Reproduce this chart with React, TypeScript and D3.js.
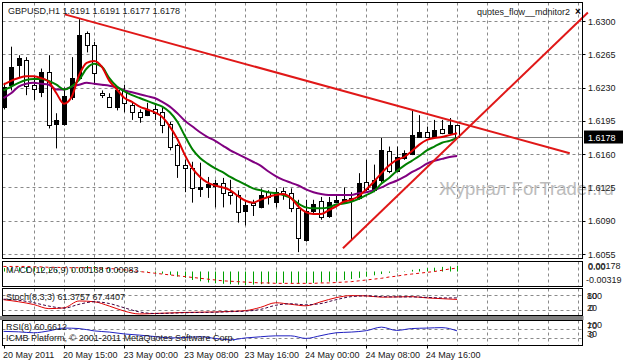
import React from "react";
import * as d3 from "d3";

// ---------- DATA ----------
const symbolTitle = "GBPUSD,H1  1.6191 1.6191 1.6177 1.6178";
const openP = [1.6210,1.6233,1.6254,1.6259,1.6233,1.6225,1.6246,1.6192,1.6192,1.6220,1.6240,1.6287,1.6275,1.6224,1.6220,1.6210,1.6227,1.6212,1.6204,1.6201,1.6207,1.6204,1.6192,1.6170,1.6149,1.6145,1.6123,1.6125,1.6127,1.6130,1.6120,1.6117,1.6100,1.6109,1.6104,1.6120,1.6110,1.6121,1.6119,1.6103,1.6070,1.6100,1.6111,1.6095,1.6110,1.6110,1.6112,1.6114,1.6131,1.6122,1.6133,1.6163,1.6142,1.6156,1.6160,1.6178,1.6183,1.6178,1.6186,1.6182,1.6191];
const highP = [1.6235,1.6273,1.6264,1.6262,1.6242,1.6250,1.6264,1.6203,1.6230,1.6262,1.6302,1.6289,1.6278,1.6227,1.6224,1.6231,1.6233,1.6215,1.6207,1.6214,1.6212,1.6209,1.6194,1.6171,1.6154,1.6152,1.6151,1.6136,1.6133,1.6135,1.6133,1.6122,1.6112,1.6112,1.6124,1.6122,1.6124,1.6125,1.6124,1.6112,1.6112,1.6112,1.6115,1.6115,1.6116,1.6125,1.6120,1.6140,1.6154,1.6149,1.6177,1.6168,1.6168,1.6164,1.6206,1.6201,1.6189,1.6196,1.6196,1.6198,1.6191];
const lowP = [1.6207,1.6227,1.6241,1.6222,1.6217,1.6220,1.6187,1.6166,1.6190,1.6217,1.6239,1.6267,1.6233,1.6219,1.6209,1.6206,1.6204,1.6196,1.6193,1.6200,1.6196,1.6182,1.6164,1.6135,1.6120,1.6109,1.6115,1.6114,1.6104,1.6104,1.6107,1.6088,1.6085,1.6095,1.6103,1.6107,1.6104,1.6112,1.6099,1.6057,1.6068,1.6098,1.6091,1.6093,1.6110,1.6109,1.6070,1.6112,1.6121,1.6120,1.6130,1.6140,1.6141,1.6154,1.6159,1.6177,1.6177,1.6177,1.6181,1.6181,1.6177];
const closeP = [1.6231,1.6252,1.6261,1.6232,1.6229,1.6246,1.6191,1.6196,1.6221,1.6240,1.6285,1.6275,1.6245,1.6222,1.6210,1.6227,1.6214,1.6204,1.6199,1.6206,1.6203,1.6191,1.6168,1.6149,1.6145,1.6124,1.6125,1.6129,1.6130,1.6119,1.6117,1.6099,1.6107,1.6107,1.6117,1.6115,1.6120,1.6118,1.6103,1.6072,1.6100,1.6108,1.6094,1.6110,1.6112,1.6113,1.6114,1.6130,1.6123,1.6133,1.6164,1.6142,1.6157,1.6161,1.6180,1.6183,1.6178,1.6185,1.6182,1.6191,1.6178];

const maFast = [1.6233,1.6237,1.6240,1.6242,1.6242,1.6240,1.6236,1.6224,1.6213,1.6220,1.6243,1.6256,1.6258,1.6252,1.6237,1.6228,1.6219,1.6215,1.6210,1.6207,1.6204,1.6199,1.6189,1.6176,1.6159,1.6145,1.6136,1.6130,1.6127,1.6125,1.6122,1.6116,1.6111,1.6109,1.6112,1.6115,1.6117,1.6118,1.6114,1.6105,1.6099,1.6097,1.6097,1.6101,1.6105,1.6110,1.6112,1.6116,1.6123,1.6131,1.6140,1.6148,1.6154,1.6157,1.6163,1.6170,1.6175,1.6177,1.6178,1.6180,1.6182];
const maMid = [1.6227,1.6231,1.6235,1.6238,1.6239,1.6239,1.6237,1.6233,1.6228,1.6231,1.6238,1.6250,1.6255,1.6252,1.6240,1.6231,1.6226,1.6222,1.6219,1.6216,1.6213,1.6210,1.6204,1.6194,1.6179,1.6165,1.6156,1.6150,1.6145,1.6141,1.6136,1.6132,1.6128,1.6124,1.6122,1.6120,1.6119,1.6117,1.6114,1.6108,1.6104,1.6103,1.6103,1.6104,1.6107,1.6108,1.6110,1.6113,1.6117,1.6121,1.6129,1.6135,1.6142,1.6148,1.6153,1.6158,1.6164,1.6168,1.6172,1.6174,1.6177];
const maSlow = [1.6219,1.6224,1.6231,1.6234,1.6235,1.6234,1.6233,1.6228,1.6228,1.6231,1.6233,1.6235,1.6234,1.6233,1.6232,1.6230,1.6227,1.6225,1.6223,1.6221,1.6219,1.6215,1.6210,1.6203,1.6195,1.6189,1.6183,1.6178,1.6174,1.6169,1.6164,1.6160,1.6156,1.6152,1.6148,1.6142,1.6137,1.6133,1.6130,1.6127,1.6123,1.6120,1.6118,1.6117,1.6117,1.6117,1.6117,1.6119,1.6120,1.6122,1.6125,1.6129,1.6132,1.6136,1.6141,1.6145,1.6150,1.6153,1.6155,1.6157,1.6158];

// trend lines: [bar index, price] endpoints
const trendDown = [[8.1, 1.6307], [74.9, 1.6161]];
const trendUp = [[44.9, 1.6061], [77.3, 1.6309]];
const currentPrice = 1.6178;

const priceTicks = [1.6300, 1.6265, 1.6230, 1.6195, 1.6160, 1.6125, 1.6090, 1.6055];
const timeTickIdx = [0, 8, 16, 24, 32, 40, 48, 56];
const timeTickLabels = ["20 May 2011", "20 May 15:00", "23 May 00:00", "23 May 08:00", "23 May 16:00", "24 May 00:00", "24 May 08:00", "24 May 16:00"];

const macdMain = [0.0008,0.0009,0.0010,0.0010,0.0009,0.0009,0.0007,0.0005,0.0004,0.0005,0.0009,0.0013,0.0013,0.0010,0.0008,0.0006,0.0004,0.0002,-0.0001,-0.0002,-0.0003,-0.0005,-0.0008,-0.0012,-0.0015,-0.0020,-0.0023,-0.0026,-0.0028,-0.0029,-0.0030,-0.0031,-0.0032,-0.0031,-0.0030,-0.0029,-0.0028,-0.0027,-0.0027,-0.0029,-0.0028,-0.0027,-0.0026,-0.0024,-0.0022,-0.0020,-0.0018,-0.0015,-0.0012,-0.0009,-0.0006,-0.0003,-0.0001,0.0001,0.0004,0.0006,0.0008,0.0009,0.0011,0.0012,0.00138];
const macdSignal = [0.0012,0.0012,0.0012,0.0012,0.0011,0.0011,0.0010,0.0010,0.0009,0.0009,0.0009,0.0009,0.0009,0.0008,0.0007,0.0006,0.0004,0.0002,0.0000,-0.0002,-0.0004,-0.0006,-0.0008,-0.0010,-0.0012,-0.0014,-0.0016,-0.0018,-0.0020,-0.0022,-0.0023,-0.0024,-0.0025,-0.0026,-0.0027,-0.0027,-0.0028,-0.0028,-0.0028,-0.0028,-0.0028,-0.0028,-0.0027,-0.0027,-0.0026,-0.0025,-0.0024,-0.0022,-0.0020,-0.0018,-0.0016,-0.0013,-0.0011,-0.0008,-0.0006,-0.0004,-0.0002,0.0000,0.0003,0.0006,0.00083];
const macdMax = 0.00178, macdMin = -0.00319;

const oscIdx = [0,2,4,6,8,10,12,14,16,18,20,22,24,26,28,30,32,34,36,38,40,42,44,46,48,50,52,54,56,58,60];
const stochMain = [60,52,41,25,28,55,52,35,15,4,6,8,10,11,12,14,17,30,48,42,36,52,68,76,75,70,71,72,67,64,61];
const stochSignal = [62,58,48,35,27,42,52,45,28,12,6,7,9,10,11,13,15,22,38,44,40,45,60,72,75,72,71,71,69,67,67];
const rsiVals = [58,56,52,60,72,70,60,55,47,42,36,30,32,35,28,22,30,35,39,39,28,40,52,55,61,76,62,70,72,74,60];

// ---------- LAYOUT ----------
const W = 623, H = 362;
const L = 2.5, R = 582.5;
const mainTop = 2.5, mainBot = 258.5;
const macdTop = 261.5, macdBot = 286.5;
const stTop = 288.5, stBot = 315.5;
const rsiTop = 320.5, rsiBot = 345.5;
const FONT = "'Liberation Sans', Arial, sans-serif";

export default function App() {
  const x = d3.scaleLinear().domain([0, 1]).range([3.5, 3.5 + 7.56]);
  const y = d3.scaleLinear().domain([1.6055, 1.6300]).range([254, 21]);
  const ym = d3.scaleLinear().domain([macdMin, macdMax]).range([285, 264]);
  const ys = d3.scaleLinear().domain([0, 100]).range([stBot - 0.5, stTop + 1]);
  const yr = d3.scaleLinear().domain([0, 100]).range([rsiBot - 0.5, rsiTop + 1]);

  const idx = d3.range(openP.length);
  const maLine = (arr: number[]) =>
    d3.line<number>().x((_, i) => x(i)).y((d) => y(d)).curve(d3.curveMonotoneX)(arr) || "";
  const oscLine = (arr: number[], sc: d3.ScaleLinear<number, number>) =>
    d3.line<number>().x((_, i) => x(oscIdx[i])).y((d) => sc(d)).curve(d3.curveMonotoneX)(arr) || "";

  const vGrid = d3.range(0, 80, 4).map((i) => x(i)).filter((v) => v > L + 1 && v < R - 1);
  const grid = "#8a8a8a";

  const paneGridV = (top: number, bot: number, key: string) =>
    vGrid.map((gx, k) => (
      <line key={key + k} x1={Math.round(gx) + 0.5} x2={Math.round(gx) + 0.5} y1={top} y2={bot}
        stroke={grid} strokeWidth={1} strokeDasharray="3,3" />
    ));

  return (
    <svg width={W} height={H} style={{ position: "absolute", left: 0, top: 0, background: "#fff" }}
      fontFamily={FONT} fontSize={9}>
      <rect x={0} y={0} width={W} height={H} fill="#fff" />
      <defs>
        <clipPath id="mainClip"><rect x={L} y={mainTop} width={R - L} height={mainBot - mainTop} /></clipPath>
        <clipPath id="allClip"><rect x={L} y={0} width={W - L} height={mainBot} /></clipPath>
        <clipPath id="macdClip"><rect x={L} y={macdTop} width={R - L} height={macdBot - macdTop} /></clipPath>
        <clipPath id="stClip"><rect x={L} y={stTop} width={R - L} height={stBot - stTop} /></clipPath>
        <clipPath id="rsiClip"><rect x={L} y={rsiTop} width={R - L} height={rsiBot - rsiTop} /></clipPath>
      </defs>

      {/* ---------- MAIN PANE ---------- */}
      {paneGridV(mainTop, mainBot, "mg")}
      {priceTicks.map((p) => (
        <line key={"hg" + p} x1={L} x2={R} y1={Math.round(y(p)) + 0.5} y2={Math.round(y(p)) + 0.5}
          stroke={grid} strokeDasharray="3,3" />
      ))}
      <line x1={L} x2={R} y1={Math.round(y(currentPrice)) + 0.5} y2={Math.round(y(currentPrice)) + 0.5} stroke="#808080" />

      <text x={439} y={195} fontSize={18.5} fill="#bcbcbc" fontFamily={FONT}>Журнал ForTrader.ru</text>

      <g clipPath="url(#mainClip)">
        {idx.map((i) => {
          const cx = Math.round(x(i)) + 0.5;
          const o = openP[i], c = closeP[i];
          const top = Math.round(y(Math.max(o, c))) + 0.5;
          const bot = Math.round(y(Math.min(o, c))) + 0.5;
          const bull = c > o;
          return (
            <g key={"c" + i}>
              <line x1={cx} x2={cx} y1={y(highP[i])} y2={y(lowP[i])} stroke="#000" />
              {bot - top < 1 ? (
                <line x1={cx - 2} x2={cx + 2} y1={top} y2={top} stroke="#000" />
              ) : (
                <rect x={cx - 2} y={top} width={4} height={bot - top} fill={bull ? "#000" : "#fff"} stroke="#000" />
              )}
            </g>
          );
        })}
        <path d={maLine(maSlow)} fill="none" stroke="#800080" strokeWidth={2} />
        <path d={maLine(maMid)} fill="none" stroke="#008000" strokeWidth={2} />
        <path d={maLine(maFast)} fill="none" stroke="#e00000" strokeWidth={2} />
      </g>
      <g clipPath="url(#allClip)">
        <line x1={x(trendDown[0][0])} y1={y(trendDown[0][1])} x2={x(trendDown[1][0])} y2={y(trendDown[1][1])}
          stroke="#e01818" strokeWidth={2} />
        <line x1={x(trendUp[0][0])} y1={y(trendUp[0][1])} x2={x(trendUp[1][0])} y2={y(trendUp[1][1])}
          stroke="#e01818" strokeWidth={2} />
      </g>

      <text x={8} y={14} fill="#202020">{symbolTitle}</text>
      <text x={570} y={15} textAnchor="end" fill="#202020">quotes_flow__mdnitor2</text>
      <text x={575} y={15} fill="#000" fontWeight="bold" fontSize={10}>×</text>

      {/* price axis */}
      {priceTicks.map((p) => (
        <g key={"pt" + p}>
          <line x1={R} x2={R + 3} y1={Math.round(y(p)) + 0.5} y2={Math.round(y(p)) + 0.5} stroke="#000" />
          <text x={588} y={y(p) + 3.5} fill="#202020">{p.toFixed(4)}</text>
        </g>
      ))}
      <rect x={584} y={y(currentPrice) - 6.5} width={39} height={13} fill="#000" />
      <text x={588} y={y(currentPrice) + 3.5} fill="#fff">{currentPrice.toFixed(4)}</text>

      {/* ---------- MACD ---------- */}
      {paneGridV(macdTop, macdBot, "ag")}
      <g clipPath="url(#macdClip)">
        {macdMain.map((v, i) => (
          <line key={"mh" + i} x1={Math.round(x(i)) + 0.5} x2={Math.round(x(i)) + 0.5} y1={ym(0)} y2={ym(v)}
            stroke="#00a000" strokeWidth={1} />
        ))}
        <path d={d3.line<number>().x((_, i) => x(i)).y((d) => ym(d))(macdSignal) || ""} fill="none"
          stroke="#e00000" strokeDasharray="3,3" />
      </g>
      <text x={6} y={273} fill="#202020">MACD(12,26,9) 0.00138 0.00083</text>
      <text x={588} y={269} fill="#202020">0.00178</text>
      <text x={588} y={270} fill="#202020">0.00</text>
      <text x={586} y={283} fill="#202020">-0.00319</text>

      {/* ---------- STOCH ---------- */}
      {paneGridV(stTop, stBot, "sg")}
      {[80, 20].map((v) => (
        <line key={"sl" + v} x1={L} x2={R} y1={Math.round(ys(v)) + 0.5} y2={Math.round(ys(v)) + 0.5}
          stroke={grid} strokeDasharray="3,3" />
      ))}
      <g clipPath="url(#stClip)">
        <path d={oscLine(stochMain, ys)} fill="none" stroke="#e00000" />
        <path d={oscLine(stochSignal, ys)} fill="none" stroke="#400040" strokeDasharray="3,2" />
      </g>
      <text x={6} y={300} fill="#202020">Stoch(8,3,3) 61.3757 67.4407</text>
      <text x={587} y={299} fill="#202020">100</text>
      <text x={587} y={299} fill="#202020">80</text>
      <text x={587} y={311} fill="#202020">20</text>
      <text x={589} y={311} fill="#202020">0</text>

      <rect x={0} y={316} width={R + 1} height={4} fill="#808080" />

      {/* ---------- RSI ---------- */}
      {paneGridV(rsiTop, rsiBot, "rg")}
      {[70, 30].map((v) => (
        <line key={"rl" + v} x1={L} x2={R} y1={Math.round(yr(v)) + 0.5} y2={Math.round(yr(v)) + 0.5}
          stroke={grid} strokeDasharray="3,3" />
      ))}
      <g clipPath="url(#rsiClip)">
        <path d={oscLine(rsiVals, yr)} fill="none" stroke="#2020c0" />
      </g>
      <text x={6} y={330} fill="#202020">RSI(8) 60.6612</text>
      <text x={6} y={341} fill="#202020">ICMB Platform, © 2001-2011 MetaQuotes Software Corp.</text>
      <text x={587} y={328} fill="#202020">100</text>
      <text x={587} y={329} fill="#202020">70</text>
      <text x={587} y={337} fill="#202020">30</text>
      <text x={589} y={338} fill="#202020">0</text>

      {/* pane borders */}
      {[[mainTop, mainBot], [macdTop, macdBot], [stTop, stBot], [rsiTop, rsiBot]].map(([t, b], k) => (
        <rect key={"b" + k} x={L} y={t} width={R - L} height={b - t} fill="none" stroke="#000" />
      ))}

      {/* time axis */}
      {timeTickIdx.map((ti, k) => (
        <g key={"tt" + ti}>
          <line x1={Math.round(x(ti)) + 0.5} x2={Math.round(x(ti)) + 0.5} y1={rsiBot} y2={rsiBot + 3} stroke="#000" />
          <text x={Math.max(3, x(ti) - 1)} y={358} fill="#202020">{timeTickLabels[k]}</text>
        </g>
      ))}
    </svg>
  );
}
